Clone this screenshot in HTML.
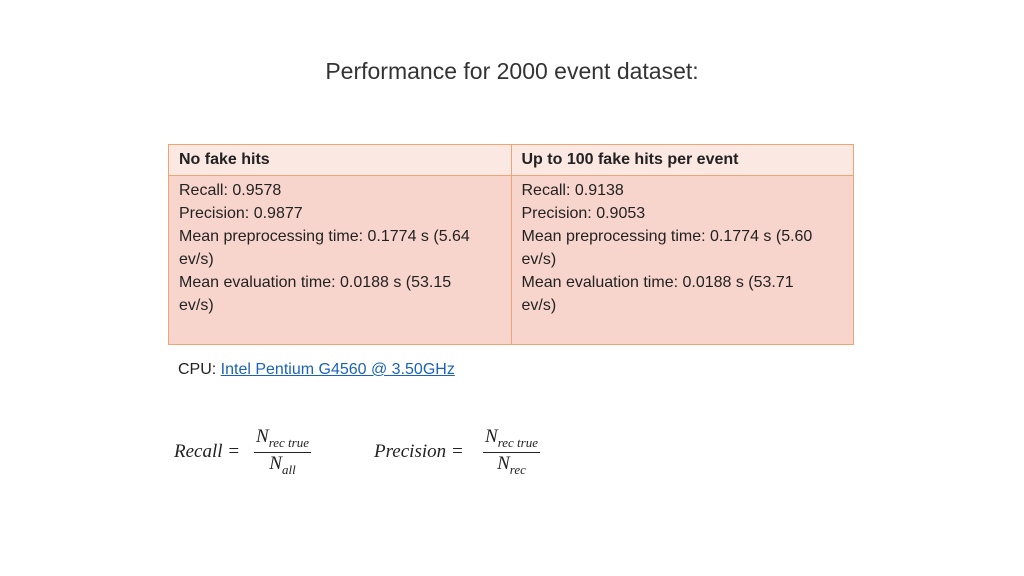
<!DOCTYPE html>
<html><head><meta charset="utf-8"><style>
body{margin:0;width:1024px;height:576px;background:#fff;position:relative;font-family:"Liberation Sans",sans-serif;overflow:hidden;color:#222}
.title{position:absolute;top:58px;left:0;width:1024px;text-align:center;font-size:23px;color:#333}
table{position:absolute;left:168px;top:144px;width:686px;height:201px;border-collapse:collapse;font-size:16px}
td{border:1.5px solid #f0a474;vertical-align:top;padding:0 10px;width:50%}
.h td{background:#fce8e3;height:30px;font-weight:bold;vertical-align:middle}
.b td{background:#f8d5cc;line-height:23px;padding-top:3px}
.cpu{position:absolute;left:178px;top:361px;font-size:16px}
.cpu a{color:#1a64b8;text-decoration:underline}
.f{position:absolute;font-family:"Liberation Serif",serif;font-style:italic;font-size:19px}
.frac{position:absolute;text-align:center}
.frac .n{border-bottom:1.2px solid #222;padding:0 2px 1px}
sub{font-size:13px}
</style></head><body>
<div class="title">Performance for 2000 event dataset:</div>
<table>
<tr class="h"><td>No fake hits</td><td>Up to 100 fake hits per event</td></tr>
<tr class="b"><td>Recall: 0.9578<br>Precision: 0.9877<br>Mean preprocessing time: 0.1774 s (5.64<br>ev/s)<br>Mean evaluation time: 0.0188 s (53.15<br>ev/s)</td>
<td>Recall: 0.9138<br>Precision: 0.9053<br>Mean preprocessing time: 0.1774 s (5.60<br>ev/s)<br>Mean evaluation time: 0.0188 s (53.71<br>ev/s)</td></tr>
</table>
<div class="cpu">CPU: <a>Intel Pentium G4560 @ 3.50GHz</a></div>
<div class="f" style="left:174px;top:441px">Recall =</div>
<div class="f frac" style="left:254px;top:426px"><div class="n">N<sub>rec true</sub></div><div>N<sub>all</sub></div></div>
<div class="f" style="left:374px;top:441px">Precision =</div>
<div class="f frac" style="left:483px;top:426px"><div class="n">N<sub>rec true</sub></div><div>N<sub>rec</sub></div></div>
</body></html>
